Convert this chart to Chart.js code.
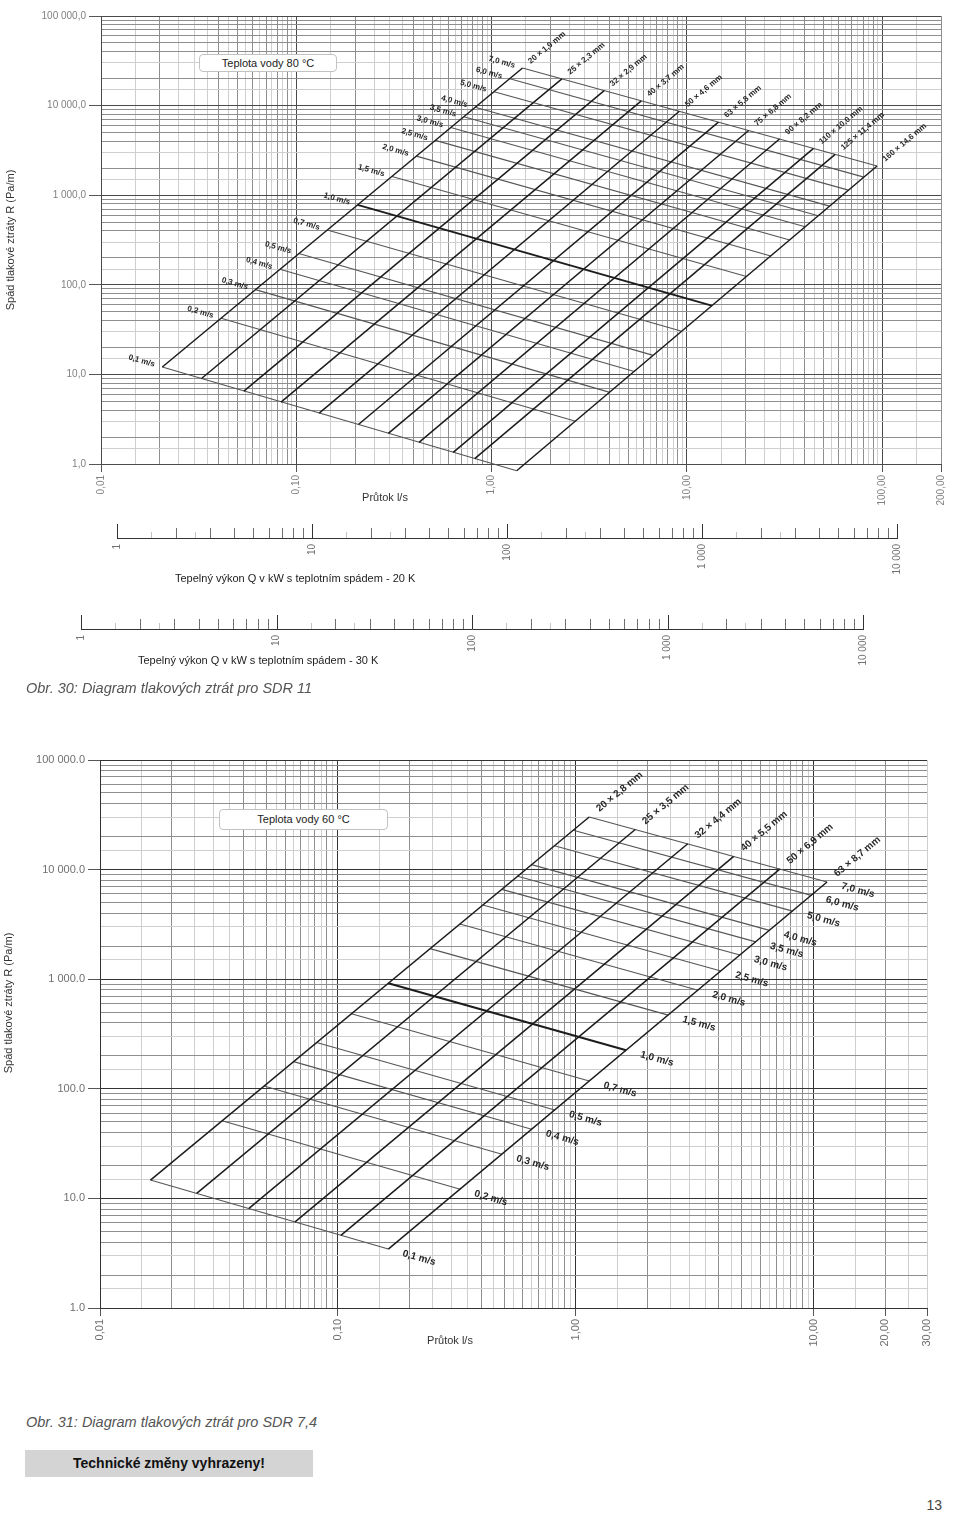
<!DOCTYPE html>
<html lang="cs">
<head>
<meta charset="utf-8">
<title>Diagram tlakových ztrát</title>
<script src="https://cdn.jsdelivr.net/npm/chart.js@4.4.0/dist/chart.umd.min.js"></script>
<style>
  html, body { margin: 0; padding: 0; background: #fff; }
  body { width: 960px; height: 1516px; position: relative; overflow: hidden;
         font-family: "Liberation Sans", Arial, sans-serif; color: #333; }
  canvas { position: absolute; left: 0; }
  .t { position: absolute; white-space: nowrap; line-height: 1; }
  .ytitle { font-size: 11px; color: #333; transform: translate(-50%, -50%) rotate(-90deg); }
  .xtitle { font-size: 11px; color: #333; transform: translate(-50%, -50%); }
  .temp { position: absolute; background: #fff; border: 1px solid #c2c2c2; border-radius: 4px;
          font-size: 11px; color: #222; text-align: center; box-sizing: border-box; }
  .scale-title { font-size: 11px; color: #222; transform: translateY(-50%); }
  .caption { font-size: 14.5px; font-style: italic; color: #555; transform: translateY(-50%); }
  .note { position: absolute; left: 25px; top: 1450px; width: 288px; height: 27px; background: #d4d4d5;
          font-weight: bold; font-size: 14px; color: #111; text-align: center; line-height: 27px; }
</style>
</head>
<body>

<canvas id="chart11" width="960" height="510" style="top:0"></canvas>
<canvas id="ruler20" width="960" height="80" style="top:510px"></canvas>
<canvas id="ruler30" width="960" height="80" style="top:600px"></canvas>
<canvas id="chart74" width="960" height="630" style="top:730px"></canvas>

<div class="t ytitle" style="left:10px; top:240px">Spád tlakové ztráty R (Pa/m)</div>
<div class="temp" style="left:199px; top:54px; width:138px; height:18px; line-height:16px">Teplota vody 80 °C</div>
<div class="t xtitle" style="left:385px; top:497px">Průtok l/s</div>
<div class="t scale-title" style="left:175px; top:578px">Tepelný výkon Q v kW s teplotním spádem - 20 K</div>
<div class="t scale-title" style="left:138px; top:660px">Tepelný výkon Q v kW s teplotním spádem - 30 K</div>
<div class="t caption" style="left:26px; top:688px">Obr. 30: Diagram tlakových ztrát pro SDR 11</div>

<div class="t ytitle" style="left:8px; top:1003px">Spád tlakové ztráty R (Pa/m)</div>
<div class="temp" style="left:219px; top:809px; width:169px; height:21px; line-height:19px">Teplota vody 60 °C</div>
<div class="t xtitle" style="left:450px; top:1340px">Průtok l/s</div>
<div class="t caption" style="left:26px; top:1422px">Obr. 31: Diagram tlakových ztrát pro SDR 7,4</div>
<div class="note">Technické změny vyhrazeny!</div>
<div class="t" style="right:18px; top:1498px; font-size:14px; color:#444">13</div>

<script>
// 1. DATOS COMUNES
const velLabels = ['0,1 m/s', '0,2 m/s', '0,3 m/s', '0,4 m/s', '0,5 m/s', '0,7 m/s', '1,0 m/s', '1,5 m/s',
                   '2,0 m/s', '2,5 m/s', '3,0 m/s', '3,5 m/s', '4,0 m/s', '5,0 m/s', '6,0 m/s', '7,0 m/s'];
const boldVel = '1,0 m/s';

const yTickVals = [1, 10, 100, 1000, 10000, 100000];
const yTickText11 = ['1,0', '10,0', '100,0', '1 000,0', '10 000,0', '100 000,0'];
const yTickText74 = ['1.0', '10.0', '100.0', '1 000.0', '10 000.0', '100 000.0'];

// 2. SDR 11 – voda 80 °C (průtok l/s, R Pa/m)
const pipes11 = ['20 × 1,9 mm', '25 × 2,3 mm', '32 × 2,9 mm', '40 × 3,7 mm', '50 × 4,6 mm', '63 × 5,8 mm',
                 '75 × 6,8 mm', '90 × 8,2 mm', '110 × 10,0 mm', '125 × 11,4 mm', '160 × 14,6 mm'];
const qLow11 = [0.0206, 0.0327, 0.0539, 0.0835, 0.131, 0.208, 0.296, 0.425, 0.636, 0.820, 1.344];
const rLow11 = [12.1, 9.0, 6.5, 4.9, 3.7, 2.76, 2.2, 1.74, 1.35, 1.15, 0.84];
const qHigh11 = [1.44, 2.29, 3.77, 5.84, 9.15, 14.5, 20.7, 29.8, 44.5, 57.4, 94.1];
const rHigh11 = [26300, 19900, 14700, 11300, 8640, 6540, 5280, 4240, 3330, 2850, 2120];
// rychlosti na krajních trubkách (20 × 1,9 a 160 × 14,6)
const qVelFirst11 = [0.0206, 0.0412, 0.0618, 0.0824, 0.103, 0.144, 0.206, 0.309, 0.412, 0.515, 0.618, 0.721, 0.824, 1.03, 1.24, 1.44];
const rVelFirst11 = [12.1, 42.4, 88.3, 149, 223, 409, 780, 1620, 2730, 4090, 5690, 7520, 9570, 14300, 19900, 26300];
const qVelLast11 = [1.344, 2.69, 4.03, 5.38, 6.72, 9.41, 13.4, 20.2, 26.9, 33.6, 40.3, 47.0, 53.8, 67.2, 80.6, 94.1];
const rVelLast11 = [0.84, 3.0, 6.3, 10.8, 16.3, 30.3, 58.5, 124, 210, 317, 444, 590, 755, 1140, 1590, 2120];
const xTickVals11 = [0.01, 0.1, 1, 10, 100, 200];
const xTickText11 = ['0,01', '0,10', '1,00', '10,00', '100,00', '200,00'];

// 3. SDR 7,4 – voda 60 °C
const pipes74 = ['20 × 2,8 mm', '25 × 3,5 mm', '32 × 4,4 mm', '40 × 5,5 mm', '50 × 6,9 mm', '63 × 8,7 mm'];
const qLow74 = [0.0163, 0.0255, 0.0423, 0.0661, 0.103, 0.163];
const rLow74 = [14.7, 11.1, 8.1, 6.1, 4.6, 3.45];
const qHigh74 = [1.14, 1.78, 2.96, 4.62, 7.21, 11.4];
const rHigh74 = [30200, 23200, 17200, 13200, 10100, 7710];
const qVelFirst74 = [0.0163, 0.0326, 0.0489, 0.0652, 0.0814, 0.114, 0.163, 0.244, 0.326, 0.407, 0.489, 0.570, 0.652, 0.814, 0.977, 1.14];
const rVelFirst74 = [14.7, 51.1, 106, 177, 265, 484, 918, 1900, 3190, 4760, 6600, 8700, 11100, 16500, 22900, 30200];
const qVelLast74 = [0.163, 0.327, 0.490, 0.653, 0.817, 1.14, 1.63, 2.45, 3.27, 4.08, 4.90, 5.72, 6.53, 8.17, 9.80, 11.4];
const rVelLast74 = [3.45, 12.1, 25.3, 42.7, 64.1, 118, 225, 470, 793, 1190, 1660, 2190, 2790, 4180, 5820, 7710];
const xTickVals74 = [0.01, 0.1, 1, 10, 20, 30];
const xTickText74 = ['0,01', '0,10', '1,00', '10,00', '20,00', '30,00'];

// 4. STUPNICE TEPELNÉHO VÝKONU
const rulerVals = [1, 10, 100, 1000, 10000];
const rulerText = ['1', '10', '100', '1 000', '10 000'];

// 5. POMOCNÉ FUNKCE MŘÍŽKY
const GRID_X_MULT = [1, 1.5, 2, 2.5, 3, 3.5, 4, 4.5, 5, 5.5, 6, 6.5, 7, 7.5, 8, 8.5, 9, 9.5];
const GRID_Y_MULT = [1, 1.5, 2, 3, 4, 5, 6, 7, 8, 9];
const RULER_MULT = [1, 1.5, 2, 2.5, 3, 4, 5, 6, 7, 8, 9];

function logTicks(min, max, mults) {
    const out = [];
    for (let e = Math.floor(Math.log10(min)); e <= Math.ceil(Math.log10(max)); e++) {
        mults.forEach(m => {
            const v = +(m * Math.pow(10, e)).toPrecision(6);
            if (v >= min * 0.999 && v <= max * 1.001) out.push(v);
        });
    }
    return out;
}
function mantissa(v) {
    const e = Math.floor(Math.log10(v) + 1e-9);
    return Math.round(v / Math.pow(10, e) * 100) / 100;
}
function findLabel(val, vals, texts) {
    const i = vals.findIndex(t => Math.abs(t - val) / t < 1e-6);
    return i >= 0 ? texts[i] : '';
}
function gridColor(v, decade, light) {
    const m = mantissa(v);
    if (m === 1) return decade;
    if (m === 3 || !Number.isInteger(m)) return light;
    return '#8e8e8e';
}

// 6. POPISKY TRUBEK A RYCHLOSTÍ
const nomoLabels = {
    id: 'nomoLabels',
    afterDatasetsDraw(chart, args, o) {
        const { ctx, scales: { x, y } } = chart;
        const P = (q, r) => ({ x: x.getPixelForValue(q), y: y.getPixelForValue(r) });
        ctx.save();
        ctx.fillStyle = '#262626';
        ctx.font = 'bold ' + o.size + 'px "Liberation Sans", Arial, sans-serif';
        ctx.textBaseline = 'middle';
        o.pipes.forEach((name, i) => {
            const a = P(o.qLow[i], o.rLow[i]), b = P(o.qHigh[i], o.rHigh[i]);
            const ang = Math.atan2(b.y - a.y, b.x - a.x);
            ctx.save();
            ctx.translate(b.x + o.pipeGap * Math.cos(ang), b.y + o.pipeGap * Math.sin(ang));
            ctx.rotate(ang);
            ctx.textAlign = 'left';
            ctx.fillText(name, 0, 0);
            ctx.restore();
        });
        velLabels.forEach((name, j) => {
            const a = P(o.qVF[j], o.rVF[j]), b = P(o.qVL[j], o.rVL[j]);
            const ang = Math.atan2(b.y - a.y, b.x - a.x);
            const left = o.velSide === 'left';
            const base = left ? a : b;
            const g = left ? -o.velGap : o.velGap;
            ctx.save();
            ctx.translate(base.x + g * Math.cos(ang), base.y + g * Math.sin(ang));
            ctx.rotate(ang);
            ctx.textAlign = left ? 'right' : 'left';
            ctx.fillText(name, 0, 0);
            ctx.restore();
        });
        ctx.restore();
    }
};

function nomoDatasets(qLow, rLow, qHigh, rHigh, qVF, rVF, qVL, rVL) {
    const ds = [];
    qLow.forEach((q, i) => ds.push({
        data: [{ x: q, y: rLow[i] }, { x: qHigh[i], y: rHigh[i] }],
        borderColor: '#1c1c1c', borderWidth: 1.5, pointRadius: 0, clip: false
    }));
    qVF.forEach((q, j) => {
        const bold = velLabels[j] === boldVel;
        ds.push({
            data: [{ x: q, y: rVF[j] }, { x: qVL[j], y: rVL[j] }],
            borderColor: bold ? '#1c1c1c' : '#555', borderWidth: bold ? 2 : 1.1, pointRadius: 0, clip: false
        });
    });
    return ds;
}

// 7. DIAGRAM
function makeNomo(id, cfg) {
    const xGrid = logTicks(cfg.xMin, cfg.xMax, GRID_X_MULT);
    const yGrid = logTicks(1, 100000, GRID_Y_MULT);
    return new Chart(document.getElementById(id), {
        type: 'line',
        data: { datasets: cfg.datasets },
        options: {
            responsive: false, animation: false, events: [],
            layout: { padding: { top: cfg.padTop, right: cfg.padRight, left: 0, bottom: 0 } },
            plugins: { legend: { display: false }, tooltip: { enabled: false }, nomoLabels: cfg.labels },
            elements: { line: { tension: 0 } },
            scales: {
                x: {
                    type: 'logarithmic', min: cfg.xMin, max: cfg.xMax,
                    afterBuildTicks: a => { a.ticks = xGrid.map(v => ({ value: v })); },
                    afterFit: a => { a.height = cfg.xHeight; },
                    border: { color: cfg.decade },
                    grid: {
                        color: c => gridColor(c.tick.value, cfg.decade, '#cfcfcf'),
                        tickColor: c => findLabel(c.tick.value, cfg.xVals, cfg.xText) ? '#555' : 'rgba(0,0,0,0)',
                        tickLength: 8, lineWidth: 1
                    },
                    ticks: {
                        autoSkip: false, minRotation: 90, maxRotation: 90, padding: 3,
                        color: cfg.tickColor, font: { size: cfg.tickSize },
                        callback: v => findLabel(v, cfg.xVals, cfg.xText)
                    }
                },
                y: {
                    type: 'logarithmic', min: 1, max: 100000,
                    afterBuildTicks: a => { a.ticks = yGrid.map(v => ({ value: v })); },
                    afterFit: a => { a.width = cfg.yWidth; },
                    border: { color: cfg.decade },
                    grid: {
                        color: c => gridColor(c.tick.value, cfg.decade, '#cfcfcf'),
                        tickColor: c => findLabel(c.tick.value, yTickVals, cfg.yText) ? '#555' : 'rgba(0,0,0,0)',
                        tickLength: 12, lineWidth: 1
                    },
                    ticks: {
                        autoSkip: false, padding: 3, color: cfg.tickColor, font: { size: cfg.tickSize },
                        callback: v => findLabel(v, yTickVals, cfg.yText)
                    }
                }
            }
        },
        plugins: [nomoLabels]
    });
}

// 8. STUPNICE (Q v kW)
const rulerGrid = logTicks(1, 10000, RULER_MULT);
const rulerMarks = {
    id: 'rulerMarks',
    afterDraw(chart) {
        const { ctx, chartArea, scales: { x } } = chart;
        ctx.save();
        ctx.lineWidth = 1;
        rulerGrid.forEach(v => {
            const m = mantissa(v);
            const h = m === 1 ? 14 : (Number.isInteger(m) ? 10 : 6);
            ctx.strokeStyle = m === 1 ? '#333' : (Number.isInteger(m) ? '#6f6f6f' : '#c4c4c4');
            const px = Math.round(x.getPixelForValue(v)) + 0.5;
            ctx.beginPath();
            ctx.moveTo(px, chartArea.bottom);
            ctx.lineTo(px, chartArea.bottom - h);
            ctx.stroke();
        });
        ctx.restore();
    }
};

function makeRuler(id, padLeft, padRight, padTop, xHeight) {
    return new Chart(document.getElementById(id), {
        type: 'line',
        data: { datasets: [] },
        options: {
            responsive: false, animation: false, events: [],
            layout: { padding: { left: padLeft, right: padRight, top: padTop, bottom: 0 } },
            plugins: { legend: { display: false }, tooltip: { enabled: false } },
            scales: {
                x: {
                    type: 'logarithmic', min: 1, max: 10000,
                    afterBuildTicks: a => { a.ticks = rulerVals.map(v => ({ value: v })); },
                    afterFit: a => { a.height = xHeight; },
                    border: { display: true, color: '#333', width: 1 },
                    grid: { display: true, drawOnChartArea: false, drawTicks: false },
                    ticks: {
                        autoSkip: false, minRotation: 90, maxRotation: 90, padding: 6,
                        color: '#707070', font: { size: 10 },
                        callback: v => findLabel(v, rulerVals, rulerText)
                    }
                },
                y: { display: false }
            }
        },
        plugins: [rulerMarks]
    });
}

// --- INICIO ---
Chart.defaults.font.family = '"Liberation Sans", Arial, sans-serif';

makeNomo('chart11', {
    xMin: 0.01, xMax: 200, padTop: 16, padRight: 19, xHeight: 46, yWidth: 101,
    xVals: xTickVals11, xText: xTickText11, yText: yTickText11,
    decade: '#4a4a4a', tickColor: '#808080', tickSize: 10,
    datasets: nomoDatasets(qLow11, rLow11, qHigh11, rHigh11, qVelFirst11, rVelFirst11, qVelLast11, rVelLast11),
    labels: { pipes: pipes11, qLow: qLow11, rLow: rLow11, qHigh: qHigh11, rHigh: rHigh11,
              qVF: qVelFirst11, rVF: rVelFirst11, qVL: qVelLast11, rVL: rVelLast11,
              velSide: 'left', velGap: 8, pipeGap: 9, size: 8 }
});

makeRuler('ruler20', 117, 63, 10, 52);
makeRuler('ruler30', 81, 97, 11, 51);

makeNomo('chart74', {
    xMin: 0.01, xMax: 30, padTop: 30, padRight: 33, xHeight: 52, yWidth: 100,
    xVals: xTickVals74, xText: xTickText74, yText: yTickText74,
    decade: '#333', tickColor: '#707070', tickSize: 11,
    datasets: nomoDatasets(qLow74, rLow74, qHigh74, rHigh74, qVelFirst74, rVelFirst74, qVelLast74, rVelLast74),
    labels: { pipes: pipes74, qLow: qLow74, rLow: rLow74, qHigh: qHigh74, rHigh: rHigh74,
              qVF: qVelFirst74, rVF: rVelFirst74, qVL: qVelLast74, rVL: rVelLast74,
              velSide: 'right', velGap: 15, pipeGap: 11, size: 10 }
});
</script>
</body>
</html>
